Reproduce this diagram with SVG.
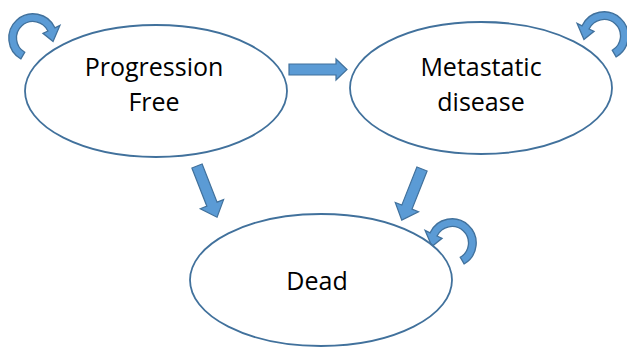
<svg xmlns="http://www.w3.org/2000/svg" width="627" height="354" viewBox="0 0 627 354">
<defs>
<style>
.node{fill:#ffffff;stroke:#41719c;stroke-width:1.8}
.lbl{font-family:"Open Sans","Liberation Sans",sans-serif;font-size:25px;fill:#000000;text-anchor:middle}
.arr{fill:#5b9bd5;stroke:#41719c;stroke-width:1.2;stroke-linejoin:miter}
</style>
<path id="circ" d="M -11 19.05 A 22 22 0 1 1 19.94 -9.30 L 24.47 -11.41 L 18.22 3.21 L 9.06 -4.23 L 13.59 -6.34 A 15 15 0 1 0 -7.5 12.99 Z"/>
<path id="blk" d="M 0 -5.5 L 41 -5.5 L 41 -12.5 L 55 0 L 41 12.5 L 41 5.5 L 0 5.5 Z"/>
</defs>
<rect width="627" height="354" fill="#ffffff"/>
<g id="connectors">
<use href="#circ" class="arr" transform="translate(33,38) scale(1.1)"/>
<use href="#circ" class="arr" transform="translate(604,36) scale(-1.1,1.1)"/>
<use href="#circ" class="arr" transform="translate(452,243) scale(-1.1,1.1)"/>
<path class="arr" d="M 289 64 L 336 64 L 336 59 L 347 69.5 L 336 80 L 336 75 L 289 75 Z"/>
<use href="#blk" class="arr" transform="translate(197,166) rotate(68.6)"/>
<use href="#blk" class="arr" transform="translate(422,169) rotate(111.6)"/>
</g>
<g id="node-progression-free">
<ellipse class="node" cx="156" cy="91" rx="131" ry="66"/>
<text class="lbl" x="154" y="76">Progression</text>
<text class="lbl" x="154" y="111">Free</text>
</g>
<g id="node-metastatic-disease">
<ellipse class="node" cx="481" cy="88" rx="131" ry="66"/>
<text class="lbl" x="481" y="76">Metastatic</text>
<text class="lbl" x="481" y="111">disease</text>
</g>
<g id="node-dead">
<ellipse class="node" cx="321" cy="280" rx="131" ry="66"/>
<text class="lbl" x="317" y="290">Dead</text>
</g>
</svg>
